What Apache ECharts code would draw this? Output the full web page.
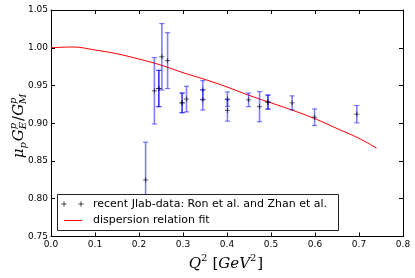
<!DOCTYPE html>
<html><head><meta charset="utf-8">
<script src="https://cdn.jsdelivr.net/npm/echarts@6/dist/echarts.min.js"></script>
<style>html,body{margin:0;padding:0;background:#fff}#c{width:415px;height:278px}</style>
</head><body><div id="c"></div>
<script>
// ---- data ----
const xTickValues = [0.0, 0.1, 0.2, 0.3, 0.4, 0.5, 0.6, 0.7, 0.8];
const yTickValues = [0.75, 0.80, 0.85, 0.90, 0.95, 1.00, 1.05];
// measured points (set A)
const setAQ2    = [0.215, 0.235, 0.245, 0.252, 0.265, 0.298, 0.308, 0.345, 0.345, 0.401, 0.401, 0.449, 0.474, 0.493, 0.548, 0.599, 0.695];
const setARatio = [0.825, 0.943, 0.946, 0.988, 0.983, 0.927, 0.932, 0.944, 0.931, 0.932, 0.917, 0.931, 0.922, 0.928, 0.927, 0.908, 0.912];
const setAErr   = [0.050, 0.044, 0.024, 0.044, 0.037, 0.013, 0.017, 0.0125, 0.0135, 0.0095, 0.0143, 0.009, 0.020, 0.0093, 0.0093, 0.011, 0.0115];
// overlapping points (set B)
const setBQ2    = [0.245, 0.298, 0.493];
const setBRatio = [0.946, 0.927, 0.928];
const setBErr   = [0.024, 0.013, 0.0093];
// dispersion relation fit
const fitQ2    = [0.00, 0.05, 0.10, 0.15, 0.20, 0.25, 0.30, 0.35, 0.40, 0.45, 0.50, 0.55, 0.60, 0.65, 0.70, 0.74];
const fitRatio = [1.000, 1.001, 0.997, 0.992, 0.985, 0.977, 0.967, 0.958, 0.948, 0.937, 0.927, 0.917, 0.906, 0.893, 0.880, 0.867];

const legendLabels = ['recent Jlab-data: Ron et al. and Zhan et al.', 'dispersion relation fit'];

// ---- helpers ----
const mctx = document.createElement('canvas').getContext('2d');
function tw(text, font){ mctx.font = font; return mctx.measureText(text).width; }
const SERIF = '"DejaVu Serif", "Liberation Serif", serif';
function mathGroup(tokens, cx, cy, rotation){
  // tokens: {t, size, italic, dy, stackWithPrev}
  let x = 0; const kids = []; let lastStart = 0; let lastW = 0;
  tokens.forEach(tok => {
    const font = (tok.italic ? 'italic ' : '') + tok.size + 'px ' + SERIF;
    const w = tw(tok.t, font);
    let px;
    if (tok.stack) { px = lastStart; x = Math.max(x, lastStart + w); }
    else { px = x + (tok.gap || 0); lastStart = px; x = px + w; }
    kids.push({type:'text', x:px, y:tok.dy || 0, style:{text:tok.t, font:font, fill:'#000', verticalAlign:'middle', align:'left'}});
  });
  kids.forEach(k => k.x -= x/2);
  return {type:'group', x:cx, y:cy, rotation:rotation || 0, children:kids, z:100};
}

function toData(q, r, e){ return q.map((v,i)=>[v, r[i], e[i]]); }

function renderErr(params, api){
  const x = api.value(0), y = api.value(1), e = api.value(2);
  const c = api.coord([x, y]);
  const t = api.coord([x, y + e]);
  const b = api.coord([x, y - e]);
  const bar = 'rgba(0,0,255,0.5)';
  const cap = 2.6, m = 2.6;
  return {type:'group', children:[
    {type:'line', shape:{x1:c[0], y1:t[1], x2:c[0], y2:b[1]}, style:{stroke:bar, lineWidth:1.6}},
    {type:'line', shape:{x1:c[0]-cap, y1:t[1], x2:c[0]+cap, y2:t[1]}, style:{stroke:bar, lineWidth:1.2}},
    {type:'line', shape:{x1:c[0]-cap, y1:b[1], x2:c[0]+cap, y2:b[1]}, style:{stroke:bar, lineWidth:1.2}},
    {type:'line', shape:{x1:c[0]-m, y1:c[1], x2:c[0]+m, y2:c[1]}, style:{stroke:'rgba(0,0,0,0.6)', lineWidth:1}},
    {type:'line', shape:{x1:c[0], y1:c[1]-m, x2:c[0], y2:c[1]+m}, style:{stroke:'rgba(0,0,0,0.6)', lineWidth:1}}
  ]};
}

const chart = echarts.init(document.getElementById('c'), null, {renderer:'canvas'});
const FONT = '"DejaVu Sans", sans-serif';
const axisCommon = {
  axisLine:{show:true, onZero:false, lineStyle:{color:'#000', width:1}},
  axisTick:{show:true, inside:true, length:4, lineStyle:{color:'#000', width:1}},
  splitLine:{show:false}
};
const xMin = xTickValues[0], xMax = xTickValues[xTickValues.length-1];
const yMin = yTickValues[0], yMax = yTickValues[yTickValues.length-1];

// legend graphic
const lgX = 57, lgY = 194, lgW = 281, lgH = 36;
function plusMark(x, y){
  return [
    {type:'line', shape:{x1:x-2.6,y1:y,x2:x+2.6,y2:y}, style:{stroke:'rgba(0,0,0,0.7)', lineWidth:1}, z:101},
    {type:'line', shape:{x1:x,y1:y-2.6,x2:x,y2:y+2.6}, style:{stroke:'rgba(0,0,0,0.7)', lineWidth:1}, z:101}
  ];
}

const graphics = [
  {type:'rect', shape:{x:lgX+0.5, y:lgY+0.5, width:lgW, height:lgH}, style:{fill:'#fff', stroke:'#222', lineWidth:1}, z:100},
  ...plusMark(64, 204), ...plusMark(81, 204),
  {type:'text', x:93, y:204, style:{text:legendLabels[0], font:'11px ' + FONT, fill:'#000', verticalAlign:'middle'}, z:101},
  {type:'line', shape:{x1:64, y1:220.5, x2:82, y2:220.5}, style:{stroke:'#ff0000', lineWidth:1}, z:101},
  {type:'text', x:93, y:220, style:{text:legendLabels[1], font:'11px ' + FONT, fill:'#000', verticalAlign:'middle'}, z:101},
  // y axis label
  mathGroup([
    {t:'μ', size:15, italic:true},
    {t:'p', size:10, italic:true, dy:4},
    {t:'G', size:15, italic:true, gap:1},
    {t:'E', size:10, italic:true, dy:4},
    {t:'p', size:10, italic:true, dy:-6, stack:true},
    {t:'/', size:15, italic:false, gap:1},
    {t:'G', size:15, italic:true},
    {t:'M', size:10, italic:true, dy:4},
    {t:'p', size:10, italic:true, dy:-6, stack:true}
  ], 19, 126, Math.PI/2),
  // x axis label
  mathGroup([
    {t:'Q', size:15, italic:true},
    {t:'2', size:10, italic:false, dy:-6},
    {t:'[', size:15, italic:false, gap:5},
    {t:'GeV', size:15, italic:true},
    {t:'2', size:10, italic:false, dy:-6},
    {t:']', size:15, italic:false, gap:1}
  ], 226, 264, 0)
];

chart.setOption({
  animation:false,
  backgroundColor:'#fff',
  grid:{left:51, right:12, top:10, bottom:41.5, containLabel:false},
  xAxis:[
    Object.assign({type:'value', min:xMin, max:xMax, interval:0.1, position:'bottom',
      axisLabel:{show:true, margin:4, fontSize:9, fontFamily:FONT, color:'#000', formatter:v=>v.toFixed(1)}}, axisCommon),
    Object.assign({type:'value', min:xMin, max:xMax, interval:0.1, position:'top', axisLabel:{show:false}}, axisCommon)
  ],
  yAxis:[
    Object.assign({type:'value', min:yMin, max:yMax, interval:0.05, position:'left',
      axisLabel:{show:true, margin:3, fontSize:9, fontFamily:FONT, color:'#000', formatter:v=>v.toFixed(2)}}, axisCommon),
    Object.assign({type:'value', min:yMin, max:yMax, interval:0.05, position:'right', axisLabel:{show:false}}, axisCommon)
  ],
  series:[
    {type:'line', name:'fit', data:fitQ2.map((v,i)=>[v, fitRatio[i]]), smooth:0.4, showSymbol:false,
      lineStyle:{color:'#ff0000', width:1}, z:3},
    {type:'custom', name:'A', data:toData(setAQ2, setARatio, setAErr), renderItem:renderErr, z:4, clip:false},
    {type:'custom', name:'B', data:toData(setBQ2, setBRatio, setBErr), renderItem:renderErr, z:4, clip:false}
  ],
  graphic:graphics
});
</script>
</body></html>
